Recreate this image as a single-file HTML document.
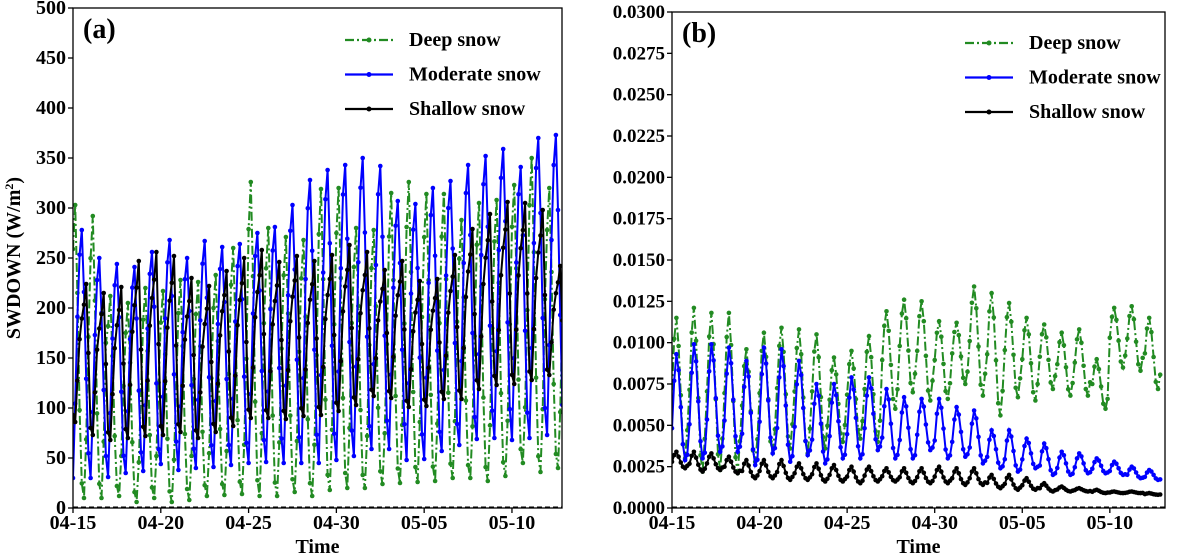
<!DOCTYPE html>
<html><head><meta charset="utf-8">
<style>
html,body{margin:0;padding:0;background:#fff;}
svg, svg text{font-family:"Liberation Serif","Times New Roman",serif;font-weight:bold;}
</style></head>
<body>
<svg id="chart" width="1195" height="555" viewBox="0 0 1195 555" xmlns="http://www.w3.org/2000/svg" font-family="Liberation Serif, serif" font-weight="bold"></svg>
<script>
// ---------- data ----------
const dayLabels = ["04-15","04-20","04-25","04-30","05-05","05-10"];
const dayTicks = [0,5,10,15,20,25];
const yTicksA = [0,50,100,150,200,250,300,350,400,450,500];
const yTicksB = [0,0.0025,0.005,0.0075,0.01,0.0125,0.015,0.0175,0.02,0.0225,0.025,0.0275,0.03];
const seriesNames = ["Deep snow","Moderate snow","Shallow snow"];
// diurnal shape (8 samples/day, fraction between daily min and max)
const shapeDeep = [0.85,1,0.7,0.3,0.05,0,0.2,0.55];
const shapeMod = [0,0.3,0.65,0.9,1,0.75,0.4,0.1];
const shapeShal = [0.05,0,0.3,0.6,0.75,0.85,1,0.5];
const shapeDeepB = [0.5,0.85,1,0.8,0.45,0.1,0,0.2];
const shapeModB = [0.3,0.75,1,0.85,0.5,0.15,0,0.05];
const shapeShalB = [0.4,0.8,1,0.7,0.35,0.1,0,0.15];
// panel (a) daily maxima / minima
const aDeepMax = [303,292,212,205,220,217,228,226,233,260,326,280,271,268,319,320,280,278,315,326,314,314,288,305,308,323,350,320];
const aDeepMin = [10,10,12,6,10,6,8,12,13,14,12,12,16,12,18,20,20,24,25,26,27,30,30,27,32,45,36,40];
const aModMax = [278,250,244,241,256,268,250,267,261,264,275,281,303,328,338,343,350,342,307,304,320,327,343,352,359,341,370,373];
const aModMin = [30,30,31,35,37,44,38,40,41,43,45,46,45,45,45,48,52,59,59,48,49,57,63,69,70,68,70,73];
const aShalMax = [224,215,221,247,256,252,230,222,237,250,258,246,252,247,253,263,256,238,247,227,229,253,279,294,306,305,298,242];
const aShalMin = [86,73,68,70,72,73,76,70,76,82,90,90,89,92,93,97,103,112,110,101,102,109,109,119,123,124,128,133];
// panel (b) daily maxima / minima
const bDeepMax = [0.0115,0.0121,0.0118,0.0118,0.0096,0.0106,0.0109,0.0108,0.0105,0.0091,0.0095,0.0104,0.0119,0.0126,0.0125,0.0113,0.0112,0.0134,0.0130,0.0124,0.0115,0.0111,0.0106,0.0108,0.0090,0.0121,0.0122,0.0115];
const bDeepMin = [0.0030,0.0022,0.0023,0.0021,0.0028,0.0033,0.0036,0.0033,0.0036,0.0040,0.0042,0.0040,0.0060,0.0070,0.0065,0.0066,0.0075,0.0068,0.0056,0.0067,0.0065,0.0072,0.0068,0.0068,0.0060,0.0085,0.0083,0.0072];
const bModMax = [0.0093,0.0099,0.0099,0.0097,0.0089,0.0097,0.0096,0.0089,0.0075,0.0075,0.0079,0.0079,0.0072,0.0067,0.0066,0.0066,0.0061,0.0059,0.0047,0.0047,0.0042,0.0039,0.0034,0.0033,0.0030,0.0028,0.0025,0.0023];
const bModMin = [0.0029,0.0030,0.0034,0.0034,0.0026,0.0033,0.0028,0.0032,0.0027,0.0030,0.0030,0.0035,0.0030,0.0030,0.0035,0.0030,0.0031,0.0027,0.0024,0.0022,0.0024,0.0020,0.0020,0.0021,0.0021,0.0020,0.0018,0.0017];
const bShalMax = [0.0034,0.0034,0.0033,0.0031,0.0029,0.0029,0.0029,0.0027,0.0027,0.0026,0.0025,0.0025,0.0024,0.0024,0.0024,0.0025,0.0024,0.0024,0.0020,0.0020,0.0018,0.0015,0.0013,0.0012,0.0011,0.0010,0.0010,0.0009];
const bShalMin = [0.0024,0.0022,0.0023,0.0021,0.0018,0.0018,0.0017,0.0017,0.0016,0.0016,0.0015,0.0016,0.0016,0.0015,0.0015,0.0015,0.0014,0.0014,0.0012,0.0011,0.0011,0.0010,0.0010,0.0010,0.0009,0.0009,0.0009,0.0008];

const NS="http://www.w3.org/2000/svg";
const svg=document.getElementById('chart');
function mk(tag,attrs,parent){const e=document.createElementNS(NS,tag);for(const k in attrs)e.setAttribute(k,attrs[k]);(parent||svg).appendChild(e);return e;}

function build(series,shape){
  const pts=[];
  for(let d=0;d<series.max.length;d++){
    for(let k=0;k<8;k++){
      pts.push([d+k/8, series.min[d]+(series.max[d]-series.min[d])*shape[k]]);
    }
  }
  return pts;
}

function panel(cfg){
  const g=mk('g',{});
  
  
  const xs=v=>cfg.l+(v/cfg.xmax)*(cfg.r-cfg.l);
  const ys=v=>cfg.b-(v/cfg.ymax)*(cfg.b-cfg.t);
  const clipId=cfg.name+'-clip';
  const cp=mk('clipPath',{id:clipId},g);
  mk('rect',{x:cfg.l,y:cfg.t,width:cfg.r-cfg.l,height:cfg.b-cfg.t},cp);
  cfg.yticks.forEach((v,i)=>{
    mk('line',{x1:cfg.l-5,x2:cfg.l,y1:ys(v),y2:ys(v),stroke:'#000','stroke-width':1.3},g);
    const t=mk('text',{x:cfg.l-7,y:ys(v)+6,'text-anchor':'end','font-size':cfg.yfs},g);
    t.textContent=cfg.yfmt(v);
    
    
  });
  dayTicks.forEach((v,i)=>{
    mk('line',{x1:xs(v),x2:xs(v),y1:cfg.b,y2:cfg.b+5,stroke:'#000','stroke-width':1.3},g);
    const t=mk('text',{x:xs(v),y:cfg.b+21,'text-anchor':'middle','font-size':20},g);
    t.textContent=dayLabels[i];
    
    
  });
  const xt=mk('text',{x:(cfg.l+cfg.r)/2,y:553,'text-anchor':'middle','font-size':20},g);
  xt.textContent='Time';
  
  
  mk('line',{x1:cfg.l,x2:cfg.r,y1:cfg.b-1,y2:cfg.b-1,stroke:'#000','stroke-width':1,'stroke-dasharray':'5,3'},g);
  const colors=['#228b22','#0000ff','#000000'];
  const dashes=['9,3,2,3','',''];
  cfg.series.forEach((s,i)=>{
    const sg=mk('g',{'clip-path':'url(#'+clipId+')'},g);
    
    
    const pts=build(s,cfg.shapes[i]);
    const d=pts.map((p,j)=>(j?'L':'M')+xs(p[0]).toFixed(1)+','+ys(p[1]).toFixed(1)).join('');
    const pa={d:d,fill:'none',stroke:colors[i],'stroke-width':2};
    if(dashes[i])pa['stroke-dasharray']=dashes[i];
    mk('path',pa,sg);
    pts.forEach(p=>{mk('circle',{cx:xs(p[0]).toFixed(1),cy:ys(p[1]).toFixed(1),r:2.3,fill:colors[i]},sg);});
  });
  mk('rect',{x:cfg.l,y:cfg.t,width:cfg.r-cfg.l,height:cfg.b-cfg.t,fill:'none',stroke:'#000','stroke-width':1.3},g);
  const lab=mk('text',{x:cfg.l+10,y:cfg.t+30,'font-size':28},g);
  lab.textContent=cfg.label;
  
  
  seriesNames.forEach((n,i)=>{
    const ly=cfg.legY+i*34.5;
    const lg=mk('g',{},g);
    
    
    const la={x1:cfg.legX,x2:cfg.legX+48,y1:ly,y2:ly,stroke:colors[i],'stroke-width':2.2};
    if(dashes[i])la['stroke-dasharray']=dashes[i];
    mk('line',la,lg);
    mk('circle',{cx:cfg.legX+24,cy:ly,r:2.5,fill:colors[i]},lg);
    const t=mk('text',{x:cfg.legX+64,y:ly+6,'font-size':20},lg);
    t.textContent=n;
  });
}

panel({name:'panel-a',l:73,r:562,t:8,b:508,xmax:27.85,ymax:500,yticks:yTicksA,yfmt:v=>String(v),yfs:20,
  series:[{max:aDeepMax,min:aDeepMin},{max:aModMax,min:aModMin},{max:aShalMax,min:aShalMin}],
  shapes:[shapeDeep,shapeMod,shapeShal],label:'(a)',legX:345,legY:40});
panel({name:'panel-b',l:672,r:1165,t:12,b:508,xmax:28.15,ymax:0.03,yticks:yTicksB,yfmt:v=>v.toFixed(4),yfs:19,
  series:[{max:bDeepMax,min:bDeepMin},{max:bModMax,min:bModMin},{max:bShalMax,min:bShalMin}],
  shapes:[shapeDeepB,shapeModB,shapeShalB],label:'(b)',legX:965,legY:43});

const yt=mk('text',{x:0,y:0,'text-anchor':'middle','font-size':20,transform:'translate(20,258) rotate(-90)'});


yt.innerHTML='SWDOWN (W/m<tspan font-size="12" dy="-7">2</tspan><tspan dy="7">)</tspan>';
</script>
</body></html>
